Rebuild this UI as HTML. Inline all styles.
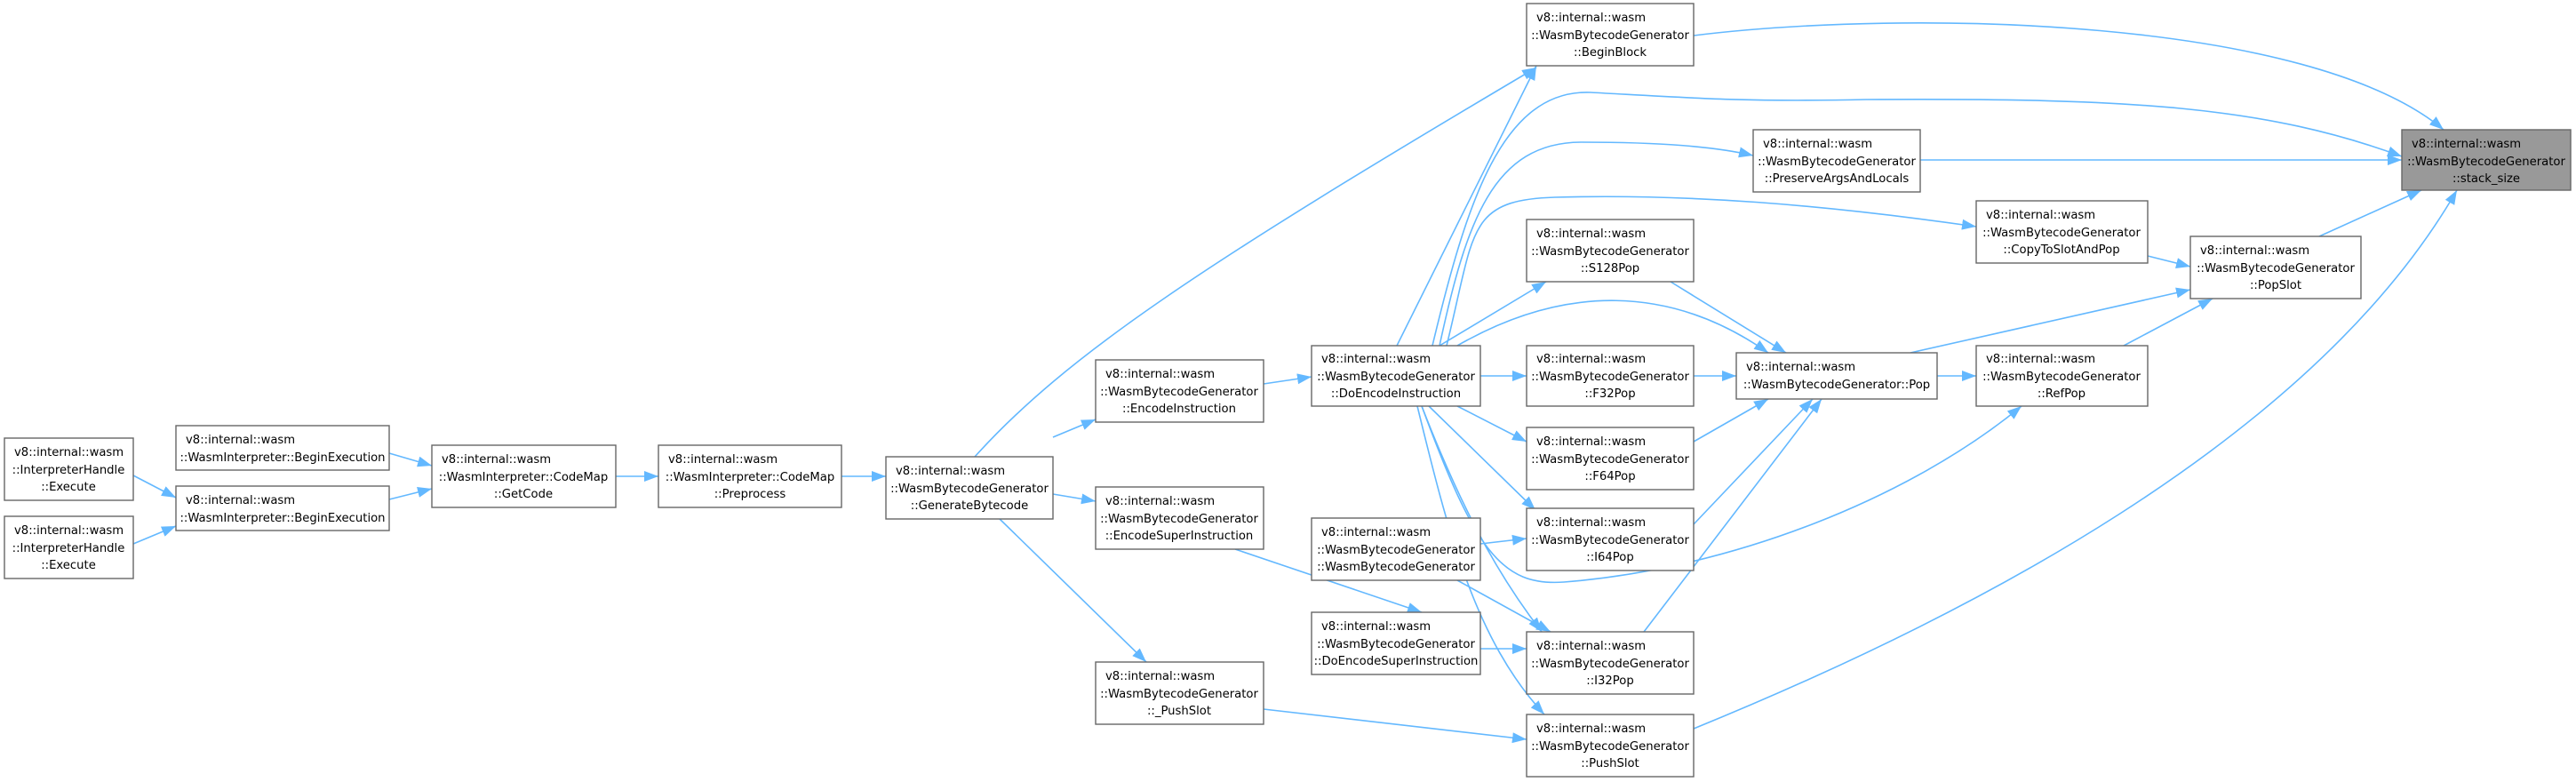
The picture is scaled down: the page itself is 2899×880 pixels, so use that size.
<!DOCTYPE html>
<html><head><meta charset="utf-8"><style>
html,body{margin:0;padding:0;background:#fff;}
svg{display:block;}
text{font-family:"DejaVu Sans","Liberation Sans",sans-serif;font-size:13.2px;fill:#000;}
</style></head><body>
<svg width="2899" height="880" viewBox="0 0 2899 880" xmlns="http://www.w3.org/2000/svg">
<defs>
<marker id="a" markerUnits="userSpaceOnUse" markerWidth="18" markerHeight="14" refX="16" refY="7" orient="auto">
<path d="M0,1 L16,7 L0,13 Z" fill="#63b8ff"/>
</marker>
</defs>
<g fill="none" stroke="#63b8ff" stroke-width="1.6" marker-end="url(#a)">
<path d="M150,535 L198,560"/>
<path d="M150,612 L198,592"/>
<path d="M438,510 L486,524"/>
<path d="M438,562 L486,550"/>
<path d="M693,536 L741,536"/>
<path d="M947,536 L997,536"/>
<path d="M1185,492 L1233,472"/>
<path d="M1185,556 L1233,564"/>
<path d="M1097,514 C1200,400 1350,300 1729,76"/>
<path d="M1125,584 L1290,745"/>
<path d="M1422,432 L1476,424"/>
<path d="M1390,618 L1600,689"/>
<path d="M1422,798 L1718,832"/>
<path d="M1666,423 L1718,423"/>
<path d="M1620,389 L1740,317"/>
<path d="M1640,457 L1718,497"/>
<path d="M1608,457 L1728,574"/>
<path d="M1600,457 C1640,560 1680,640 1735,711"/>
<path d="M1595,457 C1630,600 1660,720 1738,804"/>
<path d="M1572,389 L1729,74"/>
<path d="M1640,389 C1760,320 1880,320 1990,397"/>
<path d="M1620,389 C1650,250 1680,160 1780,160 C1870,160 1930,165 1973,175"/>
<path d="M1612,389 C1650,230 1690,100 1790,104 C1900,110 1960,115 2100,112 C2400,110 2550,120 2703,176"/>
<path d="M1628,389 C1660,260 1650,225 1750,222 C1900,218 2050,230 2224,255"/>
<path d="M1600,457 C1660,620 1690,660 1760,655 C1950,640 2150,560 2275,457"/>
<path d="M1666,612 L1718,606"/>
<path d="M1640,653 L1745,711"/>
<path d="M1666,730 L1718,730"/>
<path d="M1906,40 C2150,10 2600,20 2750,146"/>
<path d="M2161,180 L2703,180"/>
<path d="M1880,317 L2010,397"/>
<path d="M1906,423 L1954,423"/>
<path d="M1906,497 L1990,449"/>
<path d="M1906,590 L2040,449"/>
<path d="M1850,711 L2050,449"/>
<path d="M2180,423 L2224,423"/>
<path d="M2150,397 L2465,326"/>
<path d="M2417,288 L2465,300"/>
<path d="M2390,389 L2490,336"/>
<path d="M2610,266 L2725,214"/>
<path d="M1906,820 C2200,700 2600,500 2765,214"/>
</g>
<g stroke="#666" stroke-width="1.4" fill="#fff">
<rect x="5" y="493" width="145" height="70"/>
<rect x="5" y="581" width="145" height="70"/>
<rect x="198" y="479" width="240" height="50"/>
<rect x="198" y="547" width="240" height="50"/>
<rect x="486" y="501" width="207" height="70"/>
<rect x="741" y="501" width="206" height="70"/>
<rect x="997" y="514" width="188" height="70"/>
<rect x="1233" y="405" width="189" height="70"/>
<rect x="1233" y="548" width="189" height="70"/>
<rect x="1233" y="745" width="189" height="70"/>
<rect x="1476" y="389" width="190" height="68"/>
<rect x="1476" y="583" width="190" height="70"/>
<rect x="1476" y="689" width="190" height="70"/>
<rect x="1718" y="4" width="188" height="70"/>
<rect x="1718" y="247" width="188" height="70"/>
<rect x="1718" y="389" width="188" height="68"/>
<rect x="1718" y="481" width="188" height="70"/>
<rect x="1718" y="572" width="188" height="70"/>
<rect x="1718" y="711" width="188" height="70"/>
<rect x="1718" y="804" width="188" height="70"/>
<rect x="1973" y="146" width="188" height="70"/>
<rect x="1954" y="397" width="226" height="52"/>
<rect x="2224" y="226" width="193" height="70"/>
<rect x="2224" y="389" width="193" height="68"/>
<rect x="2465" y="266" width="192" height="70"/>
<rect x="2703" y="146" width="190" height="68" fill="#999"/>
</g>
<g>
<!-- 3-line: baselines y+20, y+40, y+59 -->
<text x="16" y="513">v8::internal::wasm</text><text x="77" y="533" text-anchor="middle">::InterpreterHandle</text><text x="77" y="552" text-anchor="middle">::Execute</text>
<text x="16" y="601">v8::internal::wasm</text><text x="77" y="621" text-anchor="middle">::InterpreterHandle</text><text x="77" y="640" text-anchor="middle">::Execute</text>
<text x="209" y="499">v8::internal::wasm</text><text x="318" y="519" text-anchor="middle">::WasmInterpreter::BeginExecution</text>
<text x="209" y="567">v8::internal::wasm</text><text x="318" y="587" text-anchor="middle">::WasmInterpreter::BeginExecution</text>
<text x="497" y="521">v8::internal::wasm</text><text x="589" y="541" text-anchor="middle">::WasmInterpreter::CodeMap</text><text x="589" y="560" text-anchor="middle">::GetCode</text>
<text x="752" y="521">v8::internal::wasm</text><text x="844" y="541" text-anchor="middle">::WasmInterpreter::CodeMap</text><text x="844" y="560" text-anchor="middle">::Preprocess</text>
<text x="1008" y="534">v8::internal::wasm</text><text x="1091" y="554" text-anchor="middle">::WasmBytecodeGenerator</text><text x="1091" y="573" text-anchor="middle">::GenerateBytecode</text>
<text x="1244" y="425">v8::internal::wasm</text><text x="1327" y="445" text-anchor="middle">::WasmBytecodeGenerator</text><text x="1327" y="464" text-anchor="middle">::EncodeInstruction</text>
<text x="1244" y="568">v8::internal::wasm</text><text x="1327" y="588" text-anchor="middle">::WasmBytecodeGenerator</text><text x="1327" y="607" text-anchor="middle">::EncodeSuperInstruction</text>
<text x="1244" y="765">v8::internal::wasm</text><text x="1327" y="785" text-anchor="middle">::WasmBytecodeGenerator</text><text x="1327" y="804" text-anchor="middle">::_PushSlot</text>
<text x="1487" y="408">v8::internal::wasm</text><text x="1571" y="428" text-anchor="middle">::WasmBytecodeGenerator</text><text x="1571" y="447" text-anchor="middle">::DoEncodeInstruction</text>
<text x="1487" y="603">v8::internal::wasm</text><text x="1571" y="623" text-anchor="middle">::WasmBytecodeGenerator</text><text x="1571" y="642" text-anchor="middle">::WasmBytecodeGenerator</text>
<text x="1487" y="709">v8::internal::wasm</text><text x="1571" y="729" text-anchor="middle">::WasmBytecodeGenerator</text><text x="1571" y="748" text-anchor="middle">::DoEncodeSuperInstruction</text>
<text x="1729" y="24">v8::internal::wasm</text><text x="1812" y="44" text-anchor="middle">::WasmBytecodeGenerator</text><text x="1812" y="63" text-anchor="middle">::BeginBlock</text>
<text x="1729" y="267">v8::internal::wasm</text><text x="1812" y="287" text-anchor="middle">::WasmBytecodeGenerator</text><text x="1812" y="306" text-anchor="middle">::S128Pop</text>
<text x="1729" y="408">v8::internal::wasm</text><text x="1812" y="428" text-anchor="middle">::WasmBytecodeGenerator</text><text x="1812" y="447" text-anchor="middle">::F32Pop</text>
<text x="1729" y="501">v8::internal::wasm</text><text x="1812" y="521" text-anchor="middle">::WasmBytecodeGenerator</text><text x="1812" y="540" text-anchor="middle">::F64Pop</text>
<text x="1729" y="592">v8::internal::wasm</text><text x="1812" y="612" text-anchor="middle">::WasmBytecodeGenerator</text><text x="1812" y="631" text-anchor="middle">::I64Pop</text>
<text x="1729" y="731">v8::internal::wasm</text><text x="1812" y="751" text-anchor="middle">::WasmBytecodeGenerator</text><text x="1812" y="770" text-anchor="middle">::I32Pop</text>
<text x="1729" y="824">v8::internal::wasm</text><text x="1812" y="844" text-anchor="middle">::WasmBytecodeGenerator</text><text x="1812" y="863" text-anchor="middle">::PushSlot</text>
<text x="1984" y="166">v8::internal::wasm</text><text x="2067" y="186" text-anchor="middle">::WasmBytecodeGenerator</text><text x="2067" y="205" text-anchor="middle">::PreserveArgsAndLocals</text>
<text x="1965" y="417">v8::internal::wasm</text><text x="2067" y="437" text-anchor="middle">::WasmBytecodeGenerator::Pop</text>
<text x="2235" y="246">v8::internal::wasm</text><text x="2320" y="266" text-anchor="middle">::WasmBytecodeGenerator</text><text x="2320" y="285" text-anchor="middle">::CopyToSlotAndPop</text>
<text x="2235" y="408">v8::internal::wasm</text><text x="2320" y="428" text-anchor="middle">::WasmBytecodeGenerator</text><text x="2320" y="447" text-anchor="middle">::RefPop</text>
<text x="2476" y="286">v8::internal::wasm</text><text x="2561" y="306" text-anchor="middle">::WasmBytecodeGenerator</text><text x="2561" y="325" text-anchor="middle">::PopSlot</text>
<text x="2714" y="166">v8::internal::wasm</text><text x="2798" y="186" text-anchor="middle">::WasmBytecodeGenerator</text><text x="2798" y="205" text-anchor="middle">::stack_size</text>
</g>
</svg>
</body></html>
